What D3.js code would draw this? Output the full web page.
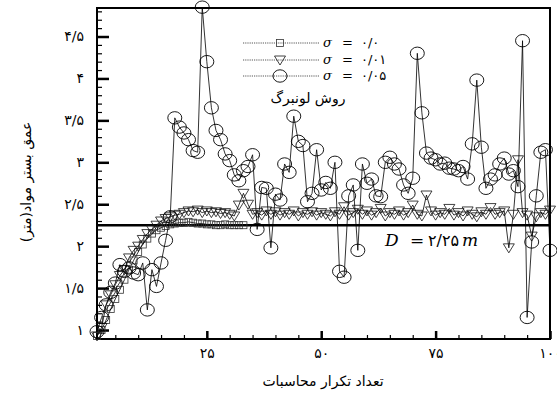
<!DOCTYPE html>
<html><head><meta charset="utf-8">
<script src="https://cdn.jsdelivr.net/npm/d3@7"></script>
<style>body{margin:0;background:#fff}svg{display:block}</style>
</head><body>
<svg id="chart" width="557" height="394"></svg>
<script>
// ---- data (iteration number 1..100) ----
const sigma0Depth = [0.93,1.00,1.12,1.25,1.37,1.48,1.60,1.72,1.83,1.93,
  2.02,2.09,2.15,2.19,2.22,2.24,2.26,2.27,2.28,2.28,
  2.29,2.28,2.27,2.27,2.26,2.26,2.25,2.25,2.26,2.25,
  2.25,2.25,2.25];
const sigma001Depth = [0.93,1.03,1.30,1.42,1.54,1.65,1.72,1.86,1.95,2.00,
  2.08,2.15,2.20,2.25,2.30,2.33,2.35,2.37,2.38,2.40,
  2.42,2.41,2.43,2.40,2.42,2.40,2.41,2.39,2.40,2.38,
  2.36,2.49,2.63,2.50,2.38,2.40,2.37,2.42,2.38,2.41,
  2.37,2.40,2.38,2.42,2.36,2.40,2.38,2.41,2.37,2.40,
  2.38,2.36,2.41,2.38,2.47,2.37,2.40,2.44,2.38,2.42,
  2.37,2.40,2.45,2.36,2.40,2.38,2.42,2.37,2.40,2.49,
  2.38,2.36,2.61,2.42,2.37,2.40,2.38,2.45,2.37,2.40,
  2.36,2.42,2.38,2.35,2.41,2.38,2.46,2.38,2.40,2.42,
  1.98,2.38,3.03,2.40,2.37,2.12,2.35,2.40,2.38,2.43];
const sigma005Depth = [0.98,1.15,1.30,1.45,1.56,1.78,1.70,1.74,1.68,1.66,
  1.80,1.24,1.72,1.52,1.80,2.07,2.35,3.53,3.42,3.35,
  3.27,3.14,3.12,4.85,4.20,3.65,3.38,3.27,3.10,3.02,
  2.85,2.78,2.90,2.95,3.09,2.20,2.70,2.69,1.98,2.62,
  2.55,2.98,2.88,3.55,3.25,3.20,2.53,2.63,3.15,2.67,
  2.76,2.69,3.00,1.70,1.63,2.60,2.73,1.95,2.98,2.75,
  2.80,2.60,2.59,3.00,3.06,2.98,2.92,2.73,2.63,2.81,
  4.30,3.59,3.11,3.05,3.03,2.98,2.99,2.93,2.92,2.90,
  2.95,2.80,3.22,3.98,3.18,2.69,2.80,2.85,2.98,3.05,
  2.86,2.90,2.71,4.45,1.15,2.05,2.60,3.12,3.15,1.95];
const xTicks = [25, 50, 75, 100];
const xTickLabels = ["۲۵", "۵۰", "۷۵", "۱۰۰"];
const yTicks = [1, 1.5, 2, 2.5, 3, 3.5, 4, 4.5];
const yTickLabels = ["۱", "۱/۵", "۲", "۲/۵", "۳", "۳/۵", "۴", "۴/۵"];
const trueDepth = 2.25;
const trueDepthLabel = "۲/۲۵";
const legendValues = ["۰/۰", "۰/۰۱", "۰/۰۵"];
const legendTitle = "روش لونبرگ";
const xTitle = "تعداد تکرار محاسبات";
const yTitle = "عمق بستر مواد(متر)";

// ---- chart ----
const svg = d3.select("#chart");
const x = d3.scaleLinear().domain([1, 100]).range([97, 550]);
const y = d3.scaleLinear().domain([0.893, 4.84]).range([339, 8]);
const fa = "'DejaVu Sans', sans-serif";
const serif = "'DejaVu Serif', 'Liberation Serif', serif";

// minor ticks
const yMinor = d3.range(9, 49).map(v => v / 10).filter(v => !yTicks.includes(v));
const xMinor = d3.range(5, 100, 5).filter(v => !xTicks.includes(v));
svg.append("g").attr("transform", `translate(${x.range()[0]},0)`)
  .call(d3.axisLeft(y).tickValues(yMinor).tickSize(-5).tickFormat(""))
  .call(g => g.select(".domain").remove())
  .call(g => g.selectAll("line").attr("stroke-width", 1.2));
svg.append("g").attr("transform", `translate(0,${y.range()[0]})`)
  .call(d3.axisBottom(x).tickValues(xMinor).tickSize(-4).tickFormat(""))
  .call(g => g.select(".domain").remove())
  .call(g => g.selectAll("line").attr("stroke-width", 1.2));

// major axes
svg.append("g").attr("transform", `translate(${x.range()[0]},0)`)
  .call(d3.axisLeft(y).tickValues(yTicks).tickSize(-12).tickPadding(13)
    .tickFormat((d, i) => yTickLabels[i]))
  .call(g => g.select(".domain").remove())
  .call(g => g.selectAll("line").attr("stroke-width", 2.5))
  .call(g => g.selectAll("text").attr("font-family", fa).attr("font-size", 14).attr("fill", "#000"));
svg.append("g").attr("transform", `translate(0,${y.range()[0]})`)
  .call(d3.axisBottom(x).tickValues(xTicks).tickSize(-8).tickPadding(9)
    .tickFormat((d, i) => xTickLabels[i]))
  .call(g => g.select(".domain").remove())
  .call(g => g.selectAll("line").attr("stroke-width", 2.5))
  .call(g => g.selectAll("text").attr("font-family", fa).attr("font-size", 14).attr("fill", "#000"));

// frame
svg.append("rect")
  .attr("x", x.range()[0]).attr("y", y.range()[1])
  .attr("width", x.range()[1] - x.range()[0])
  .attr("height", y.range()[0] - y.range()[1])
  .attr("fill", "none").attr("stroke", "#000").attr("stroke-width", 2);

// true depth line
svg.append("line")
  .attr("x1", x.range()[0]).attr("x2", x.range()[1])
  .attr("y1", y(trueDepth)).attr("y2", y(trueDepth))
  .attr("stroke", "#000").attr("stroke-width", 2.5);

const line = d3.line().x((d, i) => x(i + 1)).y(d => y(d));
function drawSeries(data, shape) {
  const g = svg.append("g");
  g.append("path").attr("d", line(data)).attr("fill", "none")
    .attr("stroke", "#000").attr("stroke-width", 0.8);
  const m = g.selectAll(".m").data(data).enter();
  drawMarker(m, shape, (d, i) => x(i + 1), d => y(d));
}
function drawMarker(sel, shape, fx, fy) {
  if (shape === "square") {
    sel.append("rect").attr("x", (d, i) => fx(d, i) - 3.5).attr("y", (d, i) => fy(d, i) - 3.5)
      .attr("width", 7).attr("height", 7)
      .attr("fill", "none").attr("stroke", "#333").attr("stroke-width", 0.8);
  } else if (shape === "tri") {
    sel.append("path").attr("d", (d, i) => {
      const cx = fx(d, i), cy = fy(d, i);
      return `M${cx - 5.5},${cy - 4}L${cx + 5.5},${cy - 4}L${cx},${cy + 5}Z`;
    }).attr("fill", "none").attr("stroke", "#111").attr("stroke-width", 0.8);
  } else {
    sel.append("ellipse").attr("cx", (d, i) => fx(d, i)).attr("cy", (d, i) => fy(d, i))
      .attr("rx", 7).attr("ry", 6.2)
      .attr("fill", "none").attr("stroke", "#000").attr("stroke-width", 0.9);
  }
}
drawSeries(sigma0Depth, "square");
drawSeries(sigma001Depth, "tri");
drawSeries(sigma005Depth, "circle");

// legend
const legendY = [43, 60, 76];
const shapes = ["square", "tri", "circle"];
legendY.forEach((ly, i) => {
  svg.append("line").attr("x1", 243).attr("x2", 319).attr("y1", ly).attr("y2", ly)
    .attr("stroke", "#444").attr("stroke-width", 0.9).attr("stroke-dasharray", "1.2,1");
  const s = svg.append("g").selectAll("x").data([0]).enter();
  drawMarker(s, shapes[i], () => 280, () => ly);
  svg.append("text").attr("x", 323).attr("y", ly + 4).attr("font-family", serif)
    .attr("font-style", "italic").attr("font-size", 13).text("σ");
  svg.append("text").attr("x", 342).attr("y", ly + 4).attr("font-family", serif)
    .attr("font-size", 13).text("=");
  svg.append("text").attr("x", 361).attr("y", ly + 4).attr("font-family", fa)
    .attr("font-size", 13).text(legendValues[i]);
});
svg.append("text").attr("x", 308).attr("y", 103).attr("text-anchor", "middle")
  .attr("font-family", fa).attr("font-size", 14).text(legendTitle);

// true depth label
const dy = y(trueDepth) + 21;
svg.append("text").attr("x", 385).attr("y", dy).attr("font-family", serif)
  .attr("font-style", "italic").attr("font-size", 17).text("D");
svg.append("text").attr("x", 410).attr("y", dy).attr("font-family", serif)
  .attr("font-size", 17).text("=");
svg.append("text").attr("x", 428).attr("y", dy).attr("font-family", fa)
  .attr("font-size", 16).text(trueDepthLabel);
svg.append("text").attr("x", 462).attr("y", dy).attr("font-family", serif)
  .attr("font-style", "italic").attr("font-size", 17).text("m");

// axis titles
svg.append("text").attr("x", 323).attr("y", 386).attr("text-anchor", "middle")
  .attr("font-family", fa).attr("font-size", 14).text(xTitle);
svg.append("text").attr("transform", "translate(31,182) rotate(-90)")
  .attr("text-anchor", "middle").attr("font-family", fa).attr("font-size", 14).text(yTitle);
</script>
</body></html>
